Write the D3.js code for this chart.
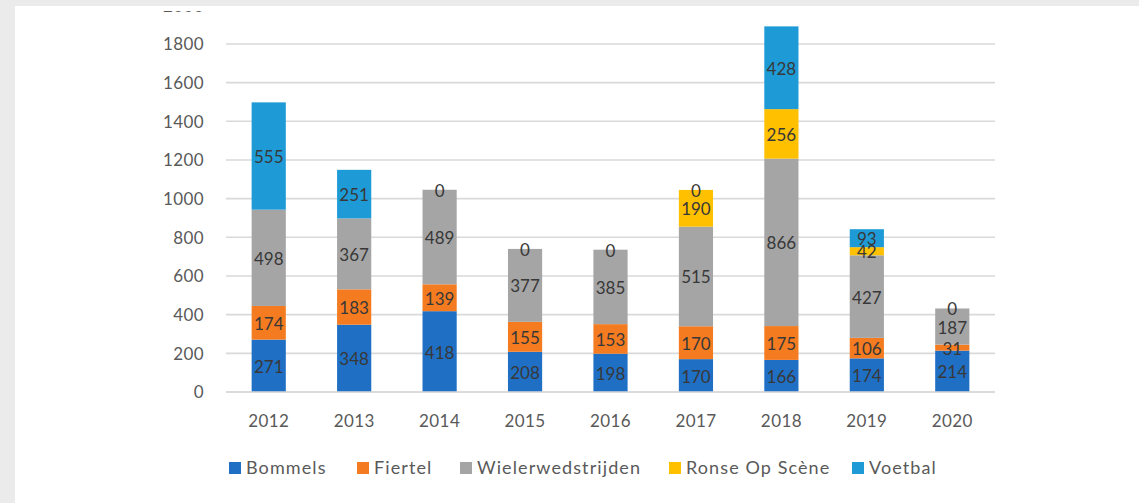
<!DOCTYPE html>
<html>
<head>
<meta charset="utf-8">
<script src="https://cdn.jsdelivr.net/npm/d3@7"></script>
<style>
  html, body { margin: 0; padding: 0; background: #ebebeb; }
  svg { display: block; }
</style>
</head>
<body>
<svg id="chart" width="1139" height="503"></svg>
<script>
// Event attendance per year, stacked by event
const years = ["2012", "2013", "2014", "2015", "2016", "2017", "2018", "2019", "2020"];
const seriesNames = ["Bommels", "Fiertel", "Wielerwedstrijden", "Ronse Op Scène", "Voetbal"];
const bommels = [271, 348, 418, 208, 198, 170, 166, 174, 214];
const fiertel = [174, 183, 139, 155, 153, 170, 175, 106, 31];
const wieler = [498, 367, 489, 377, 385, 515, 866, 427, 187];
const ronse = [null, null, null, null, null, 190, 256, 42, null];
const voetbal = [555, 251, 0, 0, 0, 0, 428, 93, 0];
const yTicks = [0, 200, 400, 600, 800, 1000, 1200, 1400, 1600, 1800, 2000];

const seriesValues = [bommels, fiertel, wieler, ronse, voetbal];
const colors = ["#1f6fc5", "#f57b20", "#a5a5a5", "#ffc000", "#1e9bd7"];

const svg = d3.select("#chart");
const W = 1139, H = 503;

// white panel
svg.append("rect").attr("x", 15).attr("y", 6).attr("width", W - 15).attr("height", H - 6).attr("fill", "#ffffff");

// the chart image is trimmed a little below the panel's top edge
svg.append("defs").append("clipPath").attr("id", "panelClip")
  .append("rect").attr("x", 15).attr("y", 11).attr("width", W - 15).attr("height", H - 11);

const root = svg.append("g").attr("clip-path", "url(#panelClip)");

const plot = { left: 226, right: 995, top: 5.3, bottom: 392 };

const x = d3.scaleBand().domain(years).range([plot.left, plot.right]).paddingInner(0.6).paddingOuter(0.3);
const y = d3.scaleLinear().domain([0, 2000]).range([plot.bottom, plot.top]);

const font = "Lato, 'Open Sans', sans-serif";

// gridlines
root.append("g").selectAll("line").data(yTicks).join("line")
  .attr("x1", plot.left).attr("x2", plot.right)
  .attr("y1", d => y(d)).attr("y2", d => y(d))
  .attr("stroke", "#d9d9d9").attr("stroke-width", 1.6);

// y axis labels
const yAxis = d3.axisLeft(y).tickValues(yTicks).tickSize(0).tickPadding(0).tickFormat(d3.format("d"));
const yg = root.append("g").attr("transform", `translate(${204},0)`).call(yAxis);
yg.select(".domain").remove();
yg.selectAll("text").attr("font-family", font).attr("font-size", 17).attr("fill", "#595959")
  .attr("letter-spacing", 0.4).attr("dy", "0.35em");

// stacked data
const rows = years.map((yr, i) => {
  const r = { year: yr };
  seriesNames.forEach((s, k) => { r[s] = seriesValues[k][i]; });
  return r;
});
const stack = d3.stack().keys(seriesNames).value((d, key) => d[key] == null ? 0 : d[key]);
const stacked = stack(rows);

const layers = root.append("g").selectAll("g").data(stacked).join("g")
  .attr("fill", (d, k) => colors[k]);

layers.selectAll("rect").data(d => d).join("rect")
  .attr("x", d => x(d.data.year))
  .attr("width", x.bandwidth())
  .attr("y", d => y(d[1]))
  .attr("height", d => y(d[0]) - y(d[1]));

// value labels
const labelG = root.append("g");
stacked.forEach((layer, k) => {
  layer.forEach(d => {
    const v = d.data[seriesNames[k]];
    if (v == null) return;
    labelG.append("text")
      .attr("x", x(d.data.year) + x.bandwidth() / 2)
      .attr("y", (y(d[0]) + y(d[1])) / 2 + 1)
      .attr("dy", "0.35em")
      .attr("text-anchor", "middle")
      .attr("font-family", font).attr("font-size", 17)
      .attr("fill", "#383838")
      .text(v);
  });
});

// x axis line and labels
root.append("line").attr("x1", plot.left).attr("x2", plot.right)
  .attr("y1", y(0)).attr("y2", y(0)).attr("stroke", "#d9d9d9").attr("stroke-width", 1.6);

const xAxis = d3.axisBottom(x).tickSize(0).tickPadding(0);
const xg = root.append("g").attr("transform", `translate(0,${421})`).call(xAxis);
xg.select(".domain").remove();
xg.selectAll("text").attr("font-family", font).attr("font-size", 17).attr("fill", "#595959")
  .attr("letter-spacing", 0.4).attr("dy", "0.35em");

// legend
const legendX = [229, 357, 460, 669, 852];
const legend = root.append("g").selectAll("g").data(seriesNames).join("g")
  .attr("transform", (d, k) => `translate(${legendX[k]},${468})`);
legend.append("rect").attr("x", 0).attr("y", -6).attr("width", 12).attr("height", 12)
  .attr("fill", (d, k) => colors[k]);
legend.append("text").attr("x", 17).attr("y", 0).attr("dy", "0.35em")
  .attr("font-family", font).attr("font-size", 18).attr("fill", "#595959")
  .attr("letter-spacing", 1.1)
  .text(d => d);
</script>
</body>
</html>
